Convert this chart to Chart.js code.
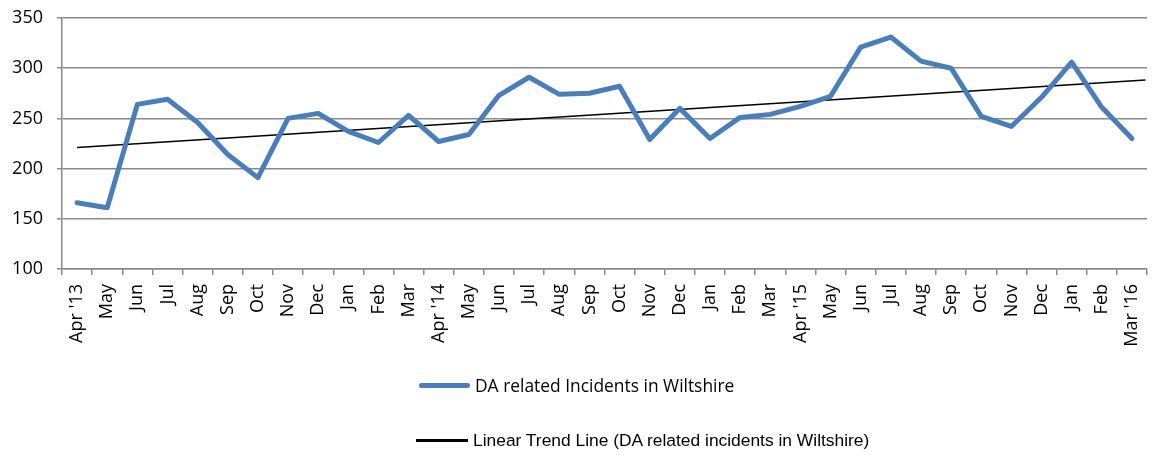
<!DOCTYPE html>
<html>
<head>
<meta charset="utf-8">
<script src="https://cdn.jsdelivr.net/npm/chart.js@4/dist/chart.umd.min.js"></script>
<style>
  html, body { margin: 0; padding: 0; background: #fff; }
  #wrap { position: relative; width: 1157px; height: 456px; }
  #legend { position: absolute; left: 0; top: 0; width: 1157px; height: 456px; pointer-events: none; }
  .item { position: absolute; display: flex; align-items: center; white-space: nowrap; color: #000; }
  .swatch { display: inline-block; margin-right: 5px; }
</style>
</head>
<body>
<div id="wrap">
  <canvas id="c" width="1157" height="456"></canvas>
  <div id="legend"></div>
</div>
<script>
const months = ["Apr '13","May","Jun","Jul","Aug","Sep","Oct","Nov","Dec","Jan","Feb","Mar",
                "Apr '14","May","Jun","Jul","Aug","Sep","Oct","Nov","Dec","Jan","Feb","Mar",
                "Apr '15","May","Jun","Jul","Aug","Sep","Oct","Nov","Dec","Jan","Feb","Mar '16"];
const incidents = [166,161,264,269,246,214,191,250,255,237,226,253,
                   227,234,273,291,274,275,282,229,260,230,251,254,
                   262,272,321,331,307,300,252,242,271,306,261,230];
const trendX = [0, 35.45];
const trendY = [221, 288.3];
const yTicks = [100, 150, 200, 250, 300, 350];

const seriesLabel = "DA related Incidents in Wiltshire";
const trendLabel = "Linear Trend Line (DA related incidents in Wiltshire)";

const gridColor = '#8a8a8a';

const chart = new Chart(document.getElementById('c'), {
  type: 'line',
  data: {
    labels: months,
    datasets: [
      {
        label: seriesLabel,
        data: incidents,
        borderColor: '#4A7EBB',
        backgroundColor: '#4A7EBB',
        borderWidth: 5,
        pointRadius: 0,
        tension: 0,
        borderCapStyle: 'round',
        borderJoinStyle: 'round',
        xAxisID: 'x'
      },
      {
        label: trendLabel,
        data: trendX.map((x, i) => ({ x: x, y: trendY[i] })),
        borderColor: '#000',
        backgroundColor: '#000',
        borderWidth: 1.6,
        pointRadius: 0,
        tension: 0,
        xAxisID: 'xT'
      }
    ]
  },
  options: {
    responsive: false,
    animation: false,
    layout: { padding: { top: 18, right: 10, left: 0, bottom: 0 } },
    plugins: { legend: { display: false }, tooltip: { enabled: false } },
    scales: {
      x: {
        type: 'category',
        offset: true,
        grid: { offset: true, drawOnChartArea: false, drawTicks: true, tickLength: 6, color: gridColor, lineWidth: 1.5 },
        border: { display: true, color: gridColor, width: 1.5 },
        ticks: {
          autoSkip: false, maxRotation: 90, minRotation: 90, padding: 9,
          color: '#000', font: { family: 'Open Sans', size: 18 }
        },
        afterFit: (s) => { s.height = 456 - 269; s.paddingLeft = 0; s.paddingRight = 0; }
      },
      xT: {
        type: 'linear', display: false, min: -0.5, max: 35.5
      },
      y: {
        min: 100, max: 350,
        afterBuildTicks: (s) => { s.ticks = yTicks.map(v => ({ value: v })); },
        grid: { color: gridColor, lineWidth: 1.5, tickLength: 5 },
        border: { display: true, color: gridColor, width: 1.5 },
        ticks: { color: '#000', padding: 14, font: { family: 'Open Sans', size: 18 } },
        afterFit: (s) => { s.width = 62; s.paddingTop = 0; s.paddingBottom = 0; }
      }
    }
  }
});

// HTML legend built from chart datasets
const legendEl = document.getElementById('legend');
const legendPos = [
  { left: 419, top: 385, w: 51, h: 5, font: "17.4px 'Open Sans'", round: true },
  { left: 416, top: 440, w: 52, h: 3, font: "17.4px 'Liberation Sans'", round: false }
];
chart.data.datasets.forEach((ds, i) => {
  const p = legendPos[i];
  const item = document.createElement('div');
  item.className = 'item';
  item.style.left = p.left + 'px';
  item.style.top = (p.top - 15) + 'px';
  item.style.height = '30px';
  item.style.font = p.font;
  const sw = document.createElement('span');
  sw.className = 'swatch';
  sw.style.width = p.w + 'px';
  sw.style.height = p.h + 'px';
  sw.style.background = ds.borderColor;
  if (p.round) sw.style.borderRadius = '3px';
  const tx = document.createElement('span');
  tx.textContent = ds.label;
  item.appendChild(sw);
  item.appendChild(tx);
  legendEl.appendChild(item);
});
</script>
</body>
</html>
